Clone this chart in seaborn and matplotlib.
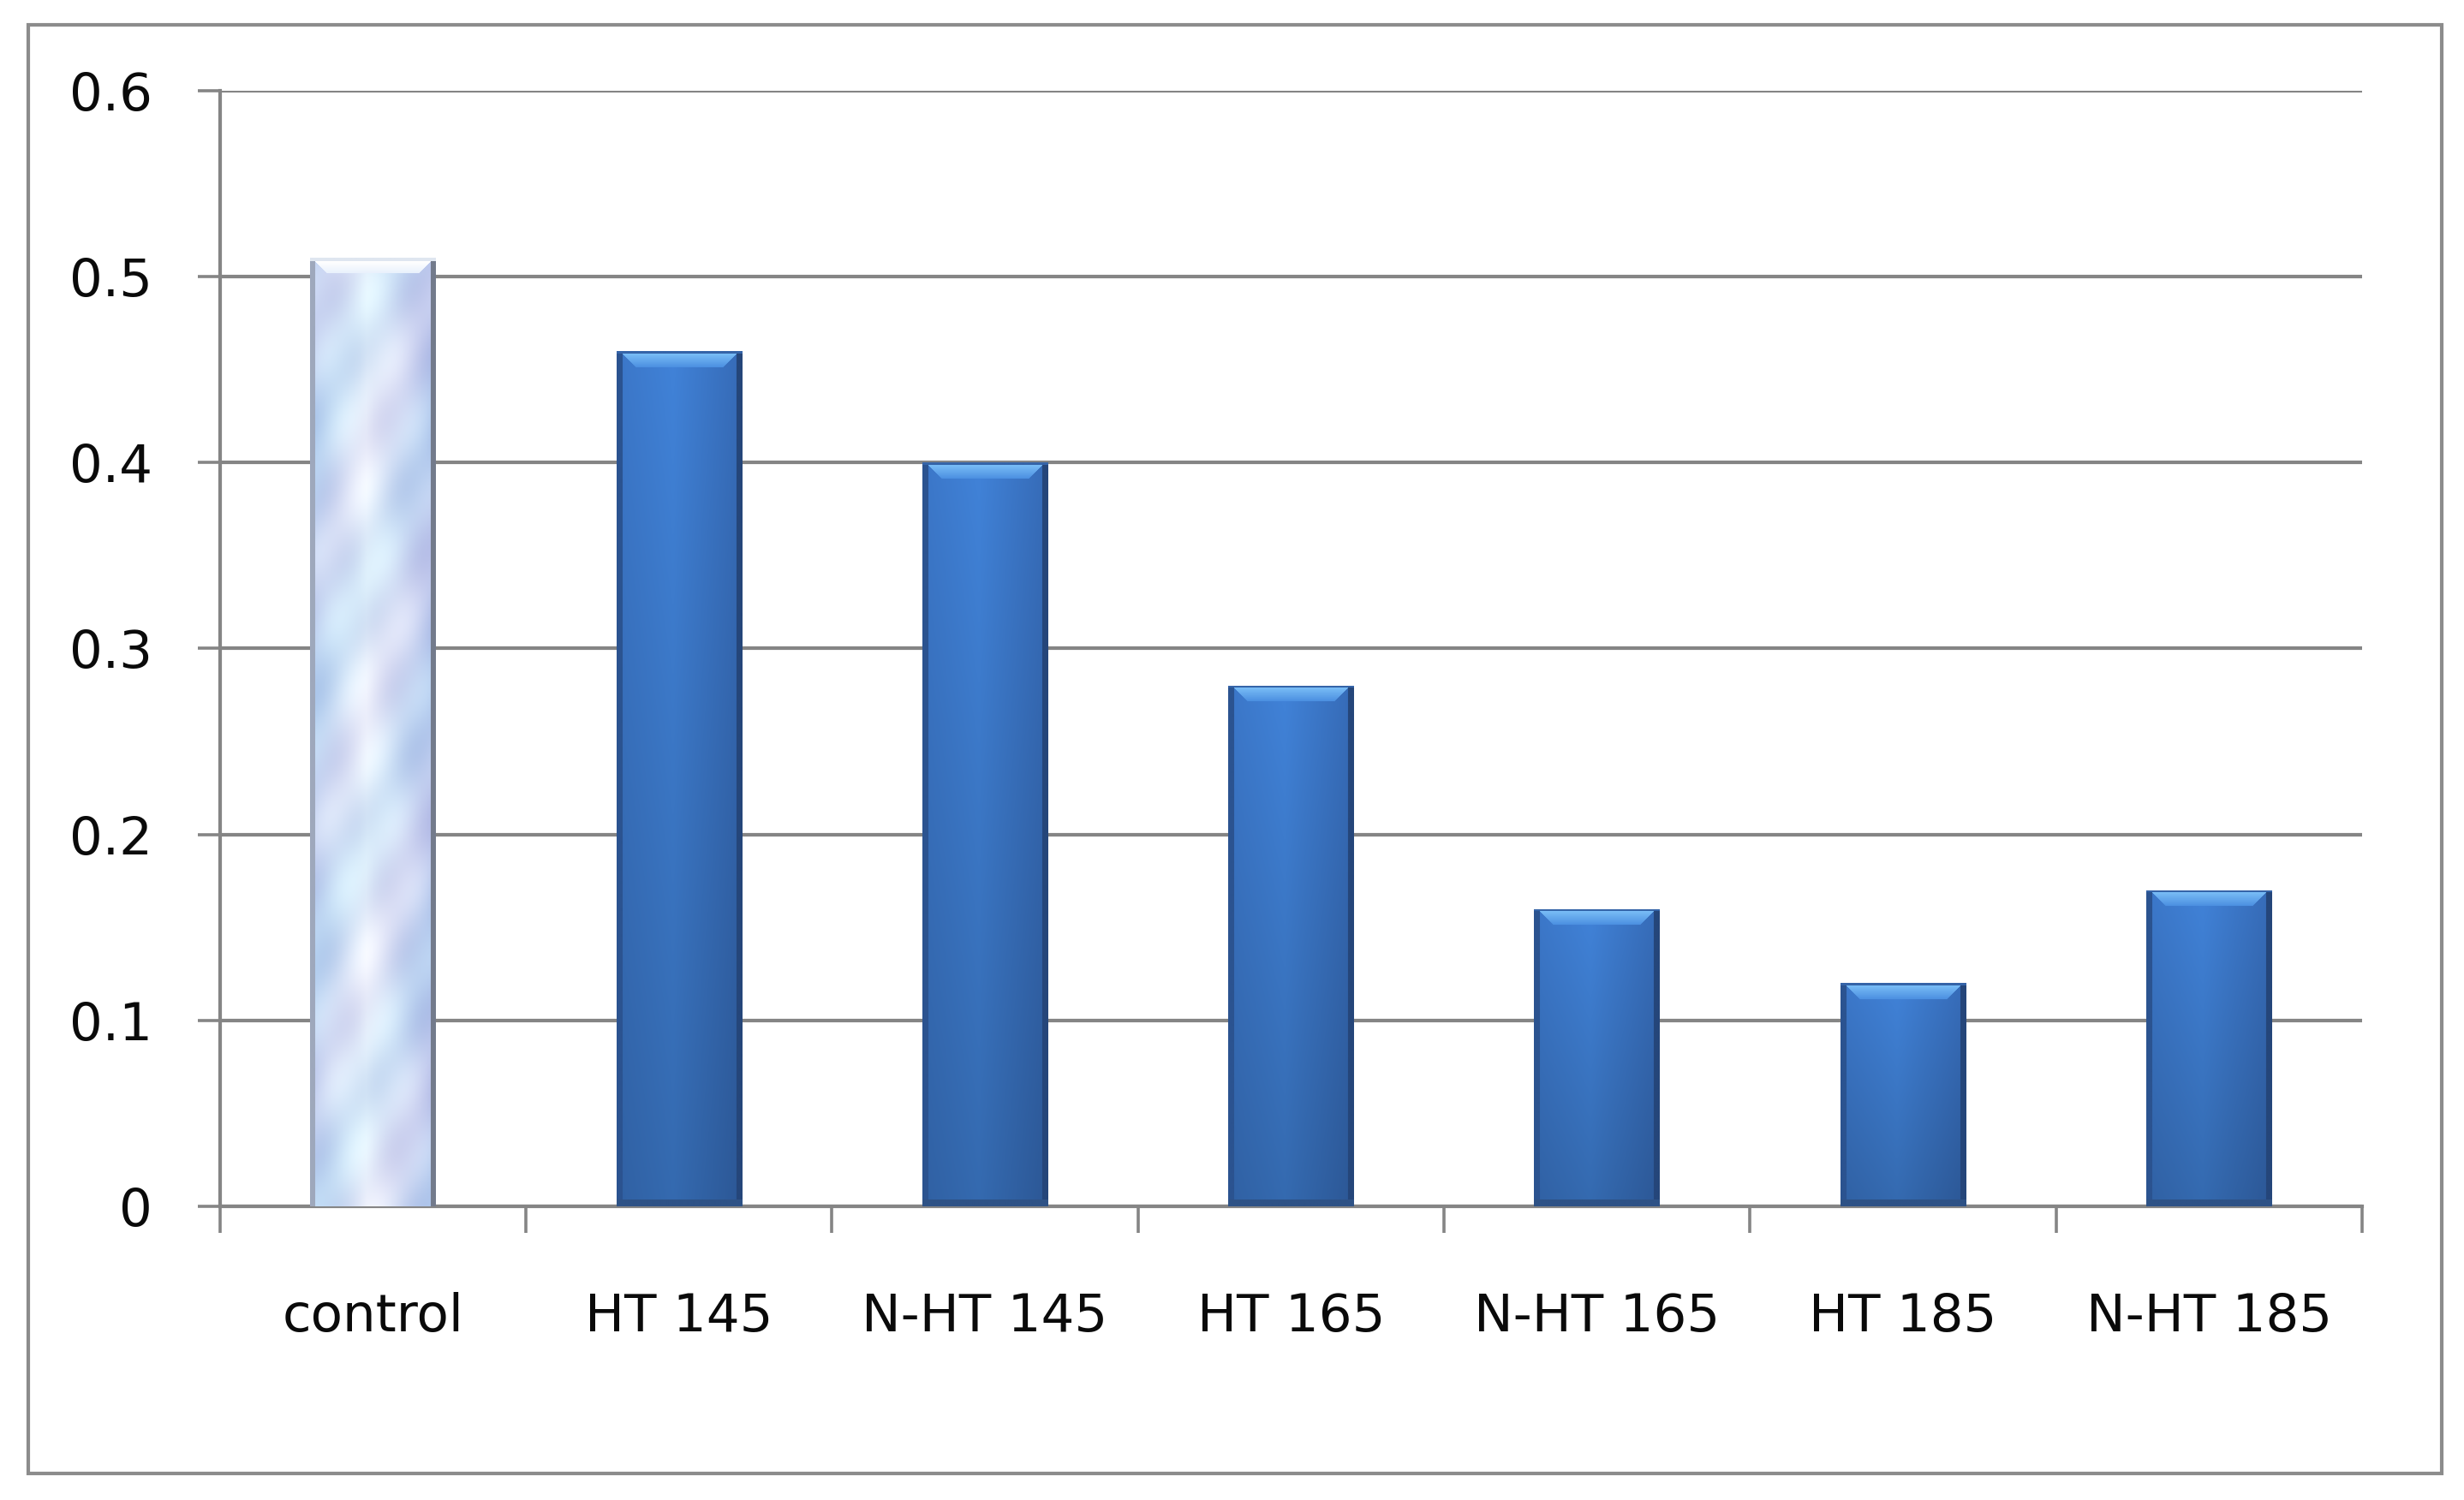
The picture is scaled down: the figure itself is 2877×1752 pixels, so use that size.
import numpy as np
import pandas as pd
import seaborn as sns
import matplotlib
matplotlib.use("Agg")
import matplotlib.pyplot as plt
from matplotlib.patches import Rectangle
from matplotlib.colors import to_rgb

# ---- data ----
categories = ["control", "HT 145", "N-HT 145", "HT 165", "N-HT 165", "HT 185", "N-HT 185"]
values = [0.51, 0.46, 0.40, 0.28, 0.16, 0.12, 0.17]
y_ticks = [0.0, 0.1, 0.2, 0.3, 0.4, 0.5, 0.6]
y_tick_labels = ["0", "0.1", "0.2", "0.3", "0.4", "0.5", "0.6"]

sns.set_theme(style="white")
plt.rcParams['font.family'] = ['DejaVu Sans']

GRAY = "#858585"
W, H, DPI = 28.77, 17.52, 100
fig = plt.figure(figsize=(W, H), dpi=DPI)
ax = fig.add_axes([0.0893, 0.1958, 0.8693, 0.7437])

df = pd.DataFrame({"cat": categories, "val": values})
palette = ["#d4e2f6"] + ["#3a72bf"] * (len(categories) - 1)
sns.barplot(data=df, x="cat", y="val", hue="cat", palette=palette, width=0.41,
            legend=False, ax=ax, zorder=3, linewidth=0, saturation=1)

ax.set_xlim(-0.5, len(categories) - 0.5)
ax.set_ylim(0, 0.6)
ax.set_axisbelow(True)
ax.yaxis.grid(True, color=GRAY, lw=3.0, zorder=0)
ax.xaxis.grid(False)

ax.set_yticks(y_ticks)
ax.set_yticklabels(y_tick_labels)
ax.set_xticks(range(len(categories)))
ax.set_xticklabels(categories)
ax.set_xticks(np.arange(-0.5, len(categories), 1.0), minor=True)
ax.set_xlabel("")
ax.set_ylabel("")

ax.tick_params(axis='y', which='major', length=19, width=2.6, color=GRAY, pad=38,
               labelsize=44, labelcolor="#0a0a0a", direction='out', left=True)
ax.tick_params(axis='x', which='major', length=0, pad=72, labelsize=44,
               labelcolor="#0a0a0a", bottom=True)
ax.tick_params(axis='x', which='minor', length=22, width=2.6, color=GRAY,
               direction='out', bottom=True)

for s in ["top", "right"]:
    ax.spines[s].set_visible(False)
for s in ["left", "bottom"]:
    ax.spines[s].set_color(GRAY)
    ax.spines[s].set_linewidth(3.0)

# ---- bar shading (styling on the library-drawn bar patches) ----
def mix(c1, c2, t):
    c1 = np.array(to_rgb(c1)); c2 = np.array(to_rgb(c2))
    return c1 * (1 - t) + c2 * t

fig.canvas.draw()
px_per_y = ax.get_window_extent().height / 0.6
px_per_x = ax.get_window_extent().width / len(categories)

for i, p in enumerate(ax.patches):
    x0, y0 = p.get_x(), p.get_y()
    w, h = p.get_width(), p.get_height()
    nx = max(int(w * px_per_x), 10)
    ny = max(int(h * px_per_y), 10)
    img = np.zeros((ny, nx, 3))
    xs = np.linspace(0, 1, nx)
    ys = np.linspace(0, 1, ny)  # 0 = top
    if i == 0:
        # pale glassy control bar
        for j, xv in enumerate(xs):
            if xv < 0.45:
                base = mix("#bcd0f0", "#e4eefb", xv / 0.45)
            else:
                base = mix("#e4eefb", "#b6c6ec", (xv - 0.45) / 0.55)
            img[:, j, :] = base
        for r, yv in enumerate(ys):
            pattern = 0.05 * np.sin(yv * 45) * np.cos(xs * 11 + yv * 19)
            lav = 0.03 * np.sin(yv * 23 + xs * 7)
            img[r, :, 0] = np.clip(img[r, :, 0] + pattern + lav, 0, 1)
            img[r, :, 1] = np.clip(img[r, :, 1] + pattern, 0, 1)
            img[r, :, 2] = np.clip(img[r, :, 2] + pattern * 0.5, 0, 1)
        edge = 6
        img[:, :edge, :] = to_rgb("#9ea8bc")
        img[:, -edge:, :] = to_rgb("#737b8c")
        top = 14
        img[:4, :, :] = to_rgb("#dfe6f0")
        for r in range(4, top + 4):
            img[r, edge + (r - 4):nx - edge - (r - 4), :] = mix("#ffffff", "#e8f0fc", (r - 4) / top)
    else:
        for j, xv in enumerate(xs):
            if xv < 0.45:
                c = mix("#3870bd", "#3d7bcc", xv / 0.45)
            else:
                c = mix("#3d7bcc", "#3365ad", (xv - 0.45) / 0.55)
            img[:, j, :] = c
        shade = np.linspace(1.06, 0.86, ny)[:, None, None]
        img = np.clip(img * shade, 0, 1)
        edge = 7
        img[:, :edge, :] = to_rgb("#2b5390")
        img[:, -edge:, :] = to_rgb("#25467a")
        img[-8:, :, :] = to_rgb("#2e5286")
        img[:3, :, :] = to_rgb("#3564a8")
        bevel = 16
        for r in range(3, min(3 + bevel, ny)):
            t = (r - 3) / bevel
            col = mix("#78bcf6", "#4a8ee0", t)
            img[r, edge + (r - 3):nx - edge - (r - 3), :] = col
    im = ax.imshow(img, extent=(x0, x0 + w, y0, y0 + h), aspect='auto',
                   zorder=4, interpolation='bilinear', origin='upper')
    im.set_clip_path(p)

ax.set_xlim(-0.5, len(categories) - 0.5)
ax.set_ylim(0, 0.6)

# outer frame
fig.add_artist(Rectangle((0.0115, 0.0177), 0.9795, 0.9658, transform=fig.transFigure,
                         fill=False, ec="#8c8c8c", lw=3))

fig.savefig("out.png", dpi=DPI)
